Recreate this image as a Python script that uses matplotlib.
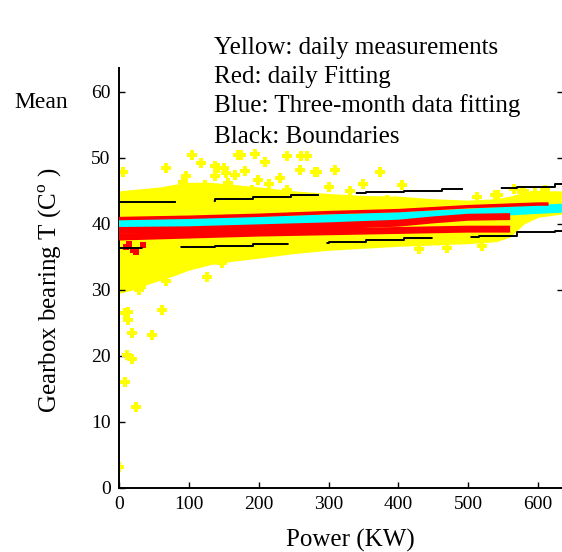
import matplotlib
matplotlib.use("Agg")
import matplotlib.pyplot as plt

plt.rcParams['font.family'] = ['Liberation Serif', 'DejaVu Serif']
plt.rcParams['mathtext.fontset'] = 'custom'
plt.rcParams['mathtext.rm'] = 'Liberation Serif'
plt.rcParams['lines.scale_dashes'] = False

# Legend-like notes at the top
notes = ['Yellow: daily measurements', 'Red: daily Fitting',
         'Blue: Three-month data fitting', 'Black: Boundaries']

# Yellow: dense core of the daily measurements (envelope) ...
env_kw = [0, 20, 40, 60, 80, 100, 130, 160, 200, 250, 300, 350, 400, 450, 500, 540, 560, 580, 600, 635]
env_top = [45.0, 45.2, 45.4, 45.6, 46.0, 46.3, 46.3, 46.0, 45.6, 45.0, 44.6, 44.3, 44.2, 43.8, 43.6, 43.8, 44.2, 44.8, 45.0, 45.0]
env_bot = [29.5, 30.0, 30.8, 31.5, 32.2, 33.0, 33.8, 34.3, 34.8, 35.5, 36.0, 36.3, 36.6, 36.8, 37.0, 37.3, 38.0, 40.0, 41.0, 41.5]

# ... and the scattered measurements around it
meas_kw = [6, 68, 104, 117, 138, 151, 171, 195, 209, 240, 261, 269, 281, 309, 374, 405,
           240, 199, 153, 91, 96, 142, 123, 137, 166, 190, 156, 259, 283, 175, 230, 215,
           180, 300, 330, 350,
           324, 384, 542, 577, 513, 539, 565, 580, 595, 610, 590, 430, 470, 520,
           13, 13, 18, 47, 61, 11, 18, 8, 25, 0, 28, 68, 126, 147, 9, 32]
meas_t = [47.9, 48.4, 50.5, 49.2, 48.7, 48.4, 50.5, 50.6, 49.3, 50.2, 50.2, 50.2, 47.9, 48.2, 47.9, 45.9,
          45.2, 46.7, 47.7, 46.4, 47.2, 48.4, 45.9, 47.2, 47.4, 45.2, 46.2, 48.2, 47.9, 50.5, 47.0, 46.0,
          48.0, 45.6, 45.0, 46.0,
          43.3, 43.6, 44.4, 44.8, 44.1, 44.4, 45.3, 45.0, 44.6, 45.2, 43.8, 36.2, 36.4, 36.6,
          26.7, 25.5, 23.4, 23.2, 27.0, 20.2, 19.5, 16.1, 12.3, 3.2, 30.0, 31.3, 32.0, 34.0, 26.5, 30.5]

# Blue (cyan): three-month data fitting
fit3m_kw = [0, 200, 400, 500, 600, 640]
fit3m_t = [40.0, 40.4, 41.1, 41.6, 42.2, 42.4]

# Red: daily fittings
daily_kw = [0, 100, 200, 300, 400, 450, 500, 560]
daily_a = [38.0, 38.3, 38.6, 38.8, 39.0, 39.1, 39.2, 39.2]
daily_b = [39.0, 39.1, 39.4, 39.7, 40.1, 40.6, 41.0, 41.1]
daily_c_kw = [0, 100, 200, 300, 400, 500, 600, 615]
daily_c = [40.8, 41.0, 41.3, 41.7, 42.0, 42.6, 43.0, 43.0]
red_kw = [10, 15, 20, 25, 35]
red_t = [36.5, 37.0, 36.0, 35.8, 36.8]

# Black: boundaries, one level per power bin
bin_edges = [0, 30, 84, 138, 192, 246, 300, 354, 408, 462, 516, 570, 624, 678]
upper = [43.3, 43.3, 43.5, 43.8, 44.1, 44.4, 44.6, 44.8, 45.0, 45.3, 45.5, 45.6, 46.0]
lower = [36.4, 36.4, 36.5, 36.7, 37.0, 37.1, 37.3, 37.5, 37.9, 38.0, 38.2, 38.8, 38.9]

x_ticks = [0, 100, 200, 300, 400, 500, 600]
y_ticks = [0, 10, 20, 30, 40, 50, 60]

W, H = 562, 552
fig = plt.figure(figsize=(W / 100, H / 100), dpi=100)
ax = fig.add_axes([119 / W, 64 / H, 461 / W, 420 / H])

ax.fill_between(env_kw, env_bot, env_top, color='#ffff00', lw=0, zorder=1)
ax.scatter(meas_kw, meas_t, s=42, marker='P', color='#ffff00', lw=0, zorder=2)
ax.plot(fit3m_kw, fit3m_t, color='#00ffff', lw=6.5, solid_capstyle='butt', zorder=3)
ax.plot(daily_kw, daily_a, color='#ff0000', lw=5, solid_capstyle='butt', zorder=4)
ax.plot(daily_kw, daily_b, color='#ff0000', lw=5, solid_capstyle='butt', zorder=4)
ax.plot(daily_c_kw, daily_c, color='#ff0000', lw=2.5, solid_capstyle='butt', zorder=4)
ax.scatter(red_kw, red_t, s=16, marker='s', color='#ff0000', lw=0, zorder=4)

ax.step(bin_edges, upper + upper[-1:], where='post', color='black', lw=1.4,
        linestyle=(39, (80, 28)), zorder=5)
ax.step(bin_edges, lower + lower[-1:], where='post', color='black', lw=1.4,
        linestyle=(63, (80, 28)), zorder=5)

ax.set_xlim(0, 660)
ax.set_ylim(0, 63.6)
ax.set_xticks(x_ticks)
ax.set_yticks(y_ticks)
ax.tick_params(direction='in', length=4, width=1, labelsize=14, pad=6)
for side in ['top', 'right']:
    ax.spines[side].set_visible(False)
for side in ['left', 'bottom']:
    ax.spines[side].set_linewidth(1.4)

ax.set_xlabel('Power (KW)', fontsize=18)
ax.xaxis.set_label_coords(0.501, -0.098)
ax.set_ylabel('Gearbox bearing T (C$^{\\mathrm{o}}$ )', fontsize=18)
ax.yaxis.set_label_coords(-0.119, 0.471)

# stray ticks of the neighbouring panel at the right edge
ax2 = fig.add_axes([557 / W, 64 / H, 0.01, 420 / H])
ax2.set_ylim(0, 63.6)
ax2.set_yticks([30, 40, 50, 60])
ax2.set_xticks([])
ax2.tick_params(direction='in', length=4, width=1, labelleft=False)
ax2.patch.set_visible(False)
for s in ax2.spines.values():
    s.set_visible(False)

fig.text(14 / W, 1 - 108 / H, 'Mean', fontsize=17, ha='left', va='baseline')
for txt, base in zip(notes, [54, 83, 112, 143]):
    fig.text(214 / W, 1 - base / H, txt, fontsize=18, ha='left', va='baseline')

fig.savefig('out.png', dpi=100)
